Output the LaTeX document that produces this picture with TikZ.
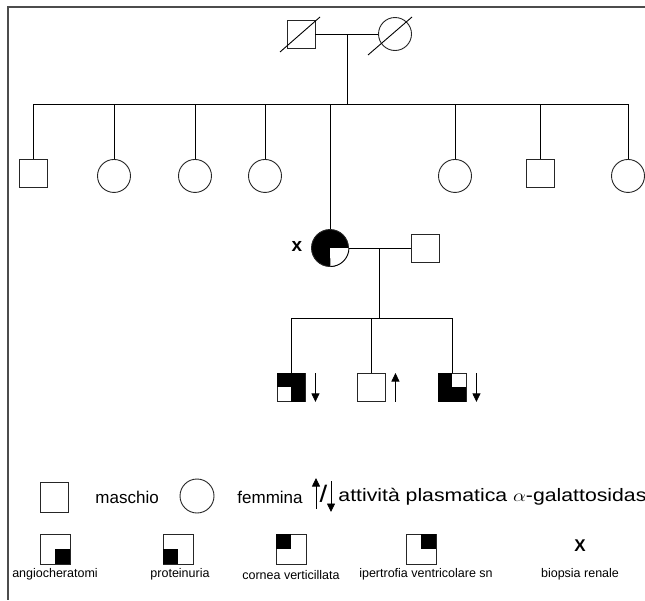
\documentclass[tikz,border=0pt]{standalone}
\usepackage{fontspec}
\usepackage{graphicx}
\setmainfont{Liberation Sans}
\newfontfamily\barrafont{DejaVu Sans}
\usetikzlibrary{arrows.meta}
\begin{document}
\begin{tikzpicture}[x=1pt,y=-1pt,line width=0.9pt,
   maschio/.style={draw=black!85,fill=white,minimum size=28pt,inner sep=0pt},
   femmina/.style={draw=black!85,fill=white,circle,minimum size=33pt,inner sep=0pt},
   legsq/.style={draw=black!85,fill=white,minimum size=30pt,inner sep=0pt},
   freccia/.style={line width=0.8pt,-{Triangle[length=8.5pt,width=8pt]}},
   testo/.style={inner sep=0pt,font=\fontsize{17}{20}\selectfont},
   piccolo/.style={inner sep=0pt,font=\fontsize{12.5}{14}\selectfont},
   segno/.style={inner sep=0pt,font=\bfseries\fontsize{19}{20}\selectfont}]
   \useasboundingbox (0,0) rectangle (645,600);
   \draw[line width=1.6pt,black!70] (645,7) -- (8,7) -- (8,600);
   \node[maschio] (nonno) at (301,34) {};
   \node[femmina] (nonna) at (395,34) {};
   \draw (280,52) -- (320,17);
   \draw (368,55) -- (412,17);
   \draw (nonno) -- (nonna);
   \coordinate (m1) at (347,34);
   \draw (m1) -- (347,104);
   \draw (33,104) -- (628,104);
   \foreach \x/\t [count=\i] in {33/maschio,114/femmina,195/femmina,265/femmina,455/femmina,540/maschio,628/femmina}{
      \node[\t,below] (f\i) at (\x,159) {};
      \draw (\x,104) -- (f\i);
   }
   \node[femmina,fill=black,minimum size=37pt] (probanda) at (330,248) {};
   \draw (330,104) -- (probanda);
   \fill[white] (probanda.center) -- (probanda.east) arc[start angle=0,end angle=-90,radius=18.5pt] -- cycle;
   \draw (probanda.east) arc[start angle=0,end angle=-90,radius=18.5pt];
   \node[segno] (biopsia) at (297,246) {x};
   \node[maschio] (coniuge) at (425,248) {};
   \draw (probanda) -- (coniuge);
   \coordinate (m2) at (379,248);
   \draw (m2) -- (379,318);
   \draw (291,318) -- (452,318);
   \foreach \x [count=\i] in {291,371,452}{
      \node[maschio,below] (n\i) at (\x,373) {};
      \draw (\x,318) -- (n\i);
   }
   \fill (n1.north west) rectangle (n1.east);
   \fill (n1.center) rectangle (n1.south east);
   \fill (n3.north west) rectangle (n3.south);
   \fill (n3.west) rectangle (n3.south east);
   \draw[freccia] ([xshift=10pt]n1.north east) -- ([xshift=10pt]n1.south east);
   \draw[freccia] ([xshift=10pt]n2.south east) -- ([xshift=10pt]n2.north east);
   \draw[freccia] ([xshift=10pt]n3.north east) -- ([xshift=10pt]n3.south east);
   % legenda
   \node[maschio,minimum height=30pt] (lm) at (54,497) {};
   \node[testo,anchor=west] (tm) at (95,497) {maschio};
   \node[femmina,minimum size=34pt] (lf) at (197,496) {};
   \node[testo,anchor=west] (tf) at (237,497) {femmina};
   \draw[freccia] (316,509) -- (316,478);
   \node[inner sep=0pt,font=\barrafont\bfseries\fontsize{21}{22}\selectfont] (barra) at (323.5,494) {/};
   \draw[freccia] (331,481) -- (331,512);
   \node[testo,anchor=west,font=\fontsize{18}{20}\selectfont] (tatt) at (338,497)
      {\scalebox{1.18}[1]{attività plasmatica $\alpha$-galattosidas}};
   \foreach \x [count=\i] in {55,178,291,421}{
      \node[legsq] (q\i) at (\x,549) {};
   }
   \fill (q1.center) rectangle (q1.south east);
   \fill (q2.center) rectangle (q2.south west);
   \fill (q3.center) rectangle (q3.north west);
   \fill (q4.center) rectangle (q4.north east);
   \node[piccolo] (t1) at (55,574) {angiocheratomi};
   \node[piccolo] (t2) at (180,574) {proteinuria};
   \node[piccolo] (t3) at (291,575) {cornea verticillata};
   \node[piccolo] (t4) at (426,574) {ipertrofia ventricolare sn};
   \node[segno,font=\bfseries\fontsize{17}{18}\selectfont] (lx) at (580,546) {X};
   \node[piccolo] (t5) at (580,574) {biopsia renale};
\end{tikzpicture}
\end{document}
